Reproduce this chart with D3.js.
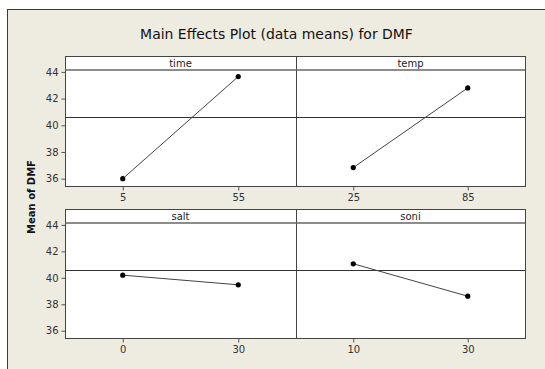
<!DOCTYPE html>
<html><head><meta charset="utf-8">
<script src="https://cdn.jsdelivr.net/npm/d3@7"></script>
<style>html,body{margin:0;padding:0;background:#fff;}svg{display:block;}</style>
</head><body>
<script>
const factors = ["time", "temp", "salt", "soni"];
const levels = [["5", "55"], ["25", "85"], ["0", "30"], ["10", "30"]];
const means = [[36.0, 43.65], [36.83, 42.8], [40.2, 39.47], [41.06, 38.61]];
const grandMean = 40.62;
const yTicks = [36, 38, 40, 42, 44];
const title = "Main Effects Plot (data means) for DMF";
const yLabel = "Mean of DMF";

const W = 545, H = 369;
const svg = d3.select("body").append("svg").attr("width", W).attr("height", H);
svg.append("rect").attr("x", 7.5).attr("y", 9.5).attr("width", W).attr("height", H)
  .attr("fill", "#eeebe1").attr("stroke", "#3a3a3a").attr("stroke-width", 1);

const cols = [[65, 296], [296, 525]];
const rows = [[56, 186], [209, 338]];
const stripH = 13.5;
const yDomain = [35.45, 44.18];

const t = svg.append("text").attr("x", 276.5).attr("y", 39).attr("text-anchor", "middle")
  .attr("font-family", "DejaVu Sans").attr("font-size", 14).attr("fill", "#111").text(title);
const tl = t.node().getComputedTextLength();
t.attr("font-size", 14 * 273 / tl);

svg.append("text").attr("transform", "translate(35,197) rotate(-90)").attr("text-anchor", "middle")
  .attr("font-family", "DejaVu Sans").attr("font-weight", "bold").attr("font-size", 10)
  .attr("fill", "#111").text(yLabel);

factors.forEach((f, i) => {
  const c = cols[i % 2], r = rows[Math.floor(i / 2)];
  const x = d3.scalePoint().domain(levels[i]).range(c).padding(0.5);
  const y = d3.scaleLinear().domain(yDomain).range([r[1], r[0] + stripH]);
  const g = svg.append("g");
  g.append("rect").attr("x", c[0] + 0.5).attr("y", r[0] + 0.5).attr("width", c[1] - c[0])
    .attr("height", r[1] - r[0]).attr("fill", "#fff").attr("stroke", "#444");
  g.append("line").attr("x1", c[0]).attr("x2", c[1]).attr("y1", r[0] + stripH + 0.5).attr("y2", r[0] + stripH + 0.5)
    .attr("stroke", "#666").attr("stroke-width", 1.6);
  g.append("text").attr("x", (c[0] + c[1]) / 2).attr("y", r[0] + 10.5).attr("text-anchor", "middle")
    .attr("font-family", "DejaVu Sans").attr("font-size", 10).attr("fill", "#222").text(f);
  g.append("line").attr("x1", c[0]).attr("x2", c[1]).attr("y1", Math.round(y(grandMean)) + 0.5)
    .attr("y2", Math.round(y(grandMean)) + 0.5).attr("stroke", "#333");
  const xa = g.append("g").attr("transform", `translate(0,${r[1] + 0.5})`)
    .call(d3.axisBottom(x).tickSize(4).tickPadding(3));
  xa.select(".domain").remove();
  xa.selectAll("line").attr("stroke", "#555");
  xa.selectAll("text").attr("font-family", "DejaVu Sans").attr("font-size", 10).attr("fill", "#333");
  if (i % 2 === 0) {
    const ya = g.append("g").attr("transform", `translate(${c[0] + 0.5},0)`)
      .call(d3.axisLeft(y).tickValues(yTicks).tickSize(4).tickPadding(3));
    ya.select(".domain").remove();
    ya.selectAll("line").attr("stroke", "#555");
    ya.selectAll("text").attr("font-family", "DejaVu Sans").attr("font-size", 10).attr("fill", "#333");
  }
  const pts = levels[i].map((l, j) => [x(l), y(means[i][j])]);
  g.append("path").attr("d", d3.line()(pts)).attr("fill", "none").attr("stroke", "#444").attr("stroke-width", 1);
  g.selectAll("circle").data(pts).join("circle").attr("cx", d => d[0]).attr("cy", d => d[1])
    .attr("r", 2.6).attr("fill", "#000");
});
</script>
</body></html>
